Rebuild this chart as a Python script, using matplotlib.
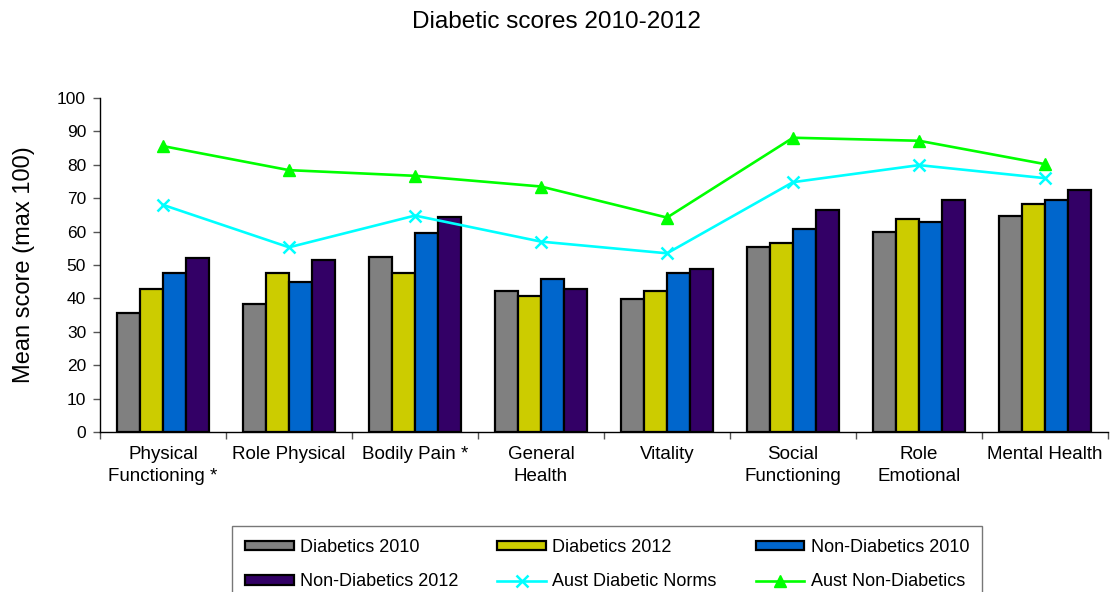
import matplotlib
matplotlib.use("Agg")
import matplotlib.pyplot as plt
import numpy as np

plt.rcParams['font.family'] = ['Liberation Sans', 'DejaVu Sans']

categories = ["Physical\nFunctioning *", "Role Physical", "Bodily Pain *", "General\nHealth",
              "Vitality", "Social\nFunctioning", "Role\nEmotional", "Mental Health"]
diabetics_2010 = [35.7, 38.3, 52.5, 42.1, 39.8, 55.3, 60.0, 64.7]
diabetics_2012 = [42.9, 47.6, 47.7, 40.8, 42.1, 56.5, 63.9, 68.2]
non_diabetics_2010 = [47.7, 45.0, 59.5, 45.7, 47.5, 60.9, 62.8, 69.5]
non_diabetics_2012 = [52.0, 51.4, 64.5, 42.7, 48.8, 66.5, 69.5, 72.5]
aust_diabetic_norms = [68.0, 55.3, 64.8, 57.0, 53.5, 74.8, 79.9, 76.0]
aust_non_diabetics = [85.6, 78.4, 76.7, 73.5, 64.2, 88.1, 87.2, 80.2]
yticks = [0, 10, 20, 30, 40, 50, 60, 70, 80, 90, 100]

bar_series = [
    ("Diabetics 2010", diabetics_2010, "#808080"),
    ("Diabetics 2012", diabetics_2012, "#CCCC00"),
    ("Non-Diabetics 2010", non_diabetics_2010, "#0066CC"),
    ("Non-Diabetics 2012", non_diabetics_2012, "#330066"),
]

W, H = 1112, 592
fig = plt.figure(figsize=(W / 100, H / 100), dpi=100)
ax = fig.add_axes([100 / W, 1 - 432 / H, 1008 / W, 334 / H])

x = np.arange(len(categories)) + 0.5
bw = 0.73 / 4
handles = {}
for i, (name, vals, col) in enumerate(bar_series):
    b = ax.bar(x + (i - 1.5) * bw, vals, bw, color=col, edgecolor='black',
               linewidth=1.6, label=name, zorder=2)
    handles[name] = b

l1, = ax.plot(x, aust_diabetic_norms, color='#00FFFF', lw=1.9, marker='x',
              markersize=9, mew=1.8, label='Aust Diabetic Norms', zorder=3)
l2, = ax.plot(x, aust_non_diabetics, color='#00FF00', lw=1.9, marker='^',
              markersize=9, label='Aust Non-Diabetics', zorder=3)

ax.set_xlim(0, len(categories))
ax.set_ylim(0, 100)
ax.set_yticks(yticks)
ax.tick_params(axis='y', direction='out', length=5, width=1, pad=5, labelsize=12.5, color='#555555')
ax.set_xticks(np.arange(len(categories) + 1))
ax.set_xticklabels([])
ax.tick_params(axis='x', which='major', direction='out', length=5, width=1, color='#555555')
ax.set_xticks(x, minor=True)
ax.set_xticklabels(categories, minor=True, fontsize=13.5, linespacing=1.4)
ax.tick_params(axis='x', which='minor', length=0, pad=10)

for s in ['top', 'right']:
    ax.spines[s].set_visible(False)
for s in ['left', 'bottom']:
    ax.spines[s].set_linewidth(1.0)
    ax.spines[s].set_color('black')

ax.set_ylabel("Mean score (max 100)", fontsize=17)
ax.yaxis.set_label_coords(-0.064, 0.5)

fig.suptitle("Diabetic scores 2010-2012", fontsize=17.5, y=1 - 22 / H, va='center')

order = [handles["Diabetics 2010"], handles["Diabetics 2012"], handles["Non-Diabetics 2010"],
         handles["Non-Diabetics 2012"], l1, l2]
labels = ["Diabetics 2010", "Diabetics 2012", "Non-Diabetics 2010",
          "Non-Diabetics 2012", "Aust Diabetic Norms", "Aust Non-Diabetics"]
idx = [0, 3, 1, 4, 2, 5]
leg = fig.legend([order[i] for i in idx], [labels[i] for i in idx], ncol=3,
                 loc='upper left', bbox_to_anchor=(232 / W, 1 - 526 / H),
                 bbox_transform=fig.transFigure, borderaxespad=0, fontsize=13,
                 frameon=True, fancybox=False, edgecolor='#555555',
                 handlelength=2.7, handleheight=0.45, handletextpad=0.35,
                 columnspacing=2.15, labelspacing=0.95, borderpad=0.72)
leg.get_frame().set_linewidth(1.0)

fig.savefig("out.png", dpi=100)
